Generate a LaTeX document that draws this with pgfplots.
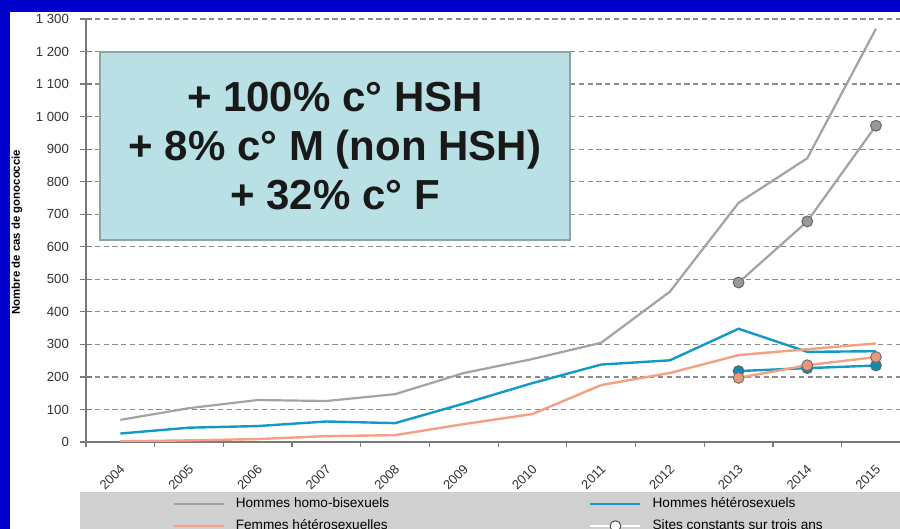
\documentclass[border=0pt]{standalone}
\usepackage{fontspec}
\setmainfont{Liberation Sans}
\usepackage{pgfplots}
\pgfplotsset{compat=1.18}

\definecolor{bgblue}{HTML}{0000CC}
\definecolor{leggray}{HTML}{D0D0D0}
\definecolor{hshgray}{HTML}{A3A3A3}
\definecolor{hetblue}{HTML}{1399C6}
\definecolor{femorange}{HTML}{F4A083}
\definecolor{boxfill}{HTML}{B9E0E4}
\definecolor{boxborder}{HTML}{8FA4A8}
\definecolor{gridgray}{HTML}{8C8C8C}
\definecolor{axisgray}{HTML}{7A7A7A}
\definecolor{tickgray}{HTML}{333333}

\begin{document}
\begin{tikzpicture}
\useasboundingbox (0pt,0pt) rectangle (450pt,264.5pt);
\fill[bgblue] (0pt,0pt) rectangle (450pt,264.5pt);
\fill[white] (5pt,0pt) rectangle (450pt,258.5pt);
\fill[leggray] (40pt,0pt) rectangle (450pt,18.5pt);

\begin{axis}[
  at={(43pt,43.5pt)}, anchor=south west,
  scale only axis, width=407pt, height=211.5pt,
  xmin=-0.5, xmax=11.35, ymin=0, ymax=1300,
  axis x line*=bottom, axis y line*=left,
  axis line style={draw=axisgray, line width=0.6pt, -},
  xtick={0,...,11},
  xticklabels={2004,2005,2006,2007,2008,2009,2010,2011,2012,2013,2014,2015},
  minor xtick={-0.5,0.5,...,10.5},
  ytick={0,100,...,1300},
  yticklabels={0,100,200,300,400,500,600,700,800,900,1 000,1 100,1 200,1 300},
  tick align=center,
  major tick length=6pt, minor tick length=2.5pt,
  xtick style={draw=none},
  minor x tick style={draw=axisgray, line width=0.6pt, yshift=-1.25pt},
  ytick style={draw=axisgray, line width=0.6pt},
  ymajorgrids,
  major grid style={draw=gridgray, line width=0.6pt, dash pattern=on 2.6pt off 1.8pt},
  /pgf/number format/assume math mode=true,
  ticklabel style={text=tickgray},
  xticklabel style={font=\fontsize{6.5}{7}\selectfont, rotate=45, anchor=east, yshift=-7.5pt, xshift=-2.5pt},
  yticklabel style={font=\fontsize{6.6}{7}\selectfont, xshift=-2pt},
  ylabel={Nombre de cas de gonococcie},
  ylabel style={at={(axis description cs:-0.0848,0.496)}, anchor=center,
    font=\bfseries\fontsize{5.7}{6}\selectfont, text=black},
  legend columns=2,
  legend cell align=left,
  legend image code/.code={\draw[mark repeat=2,mark phase=2,#1] plot coordinates {(0pt,0pt) (12.5pt,0pt) (25pt,0pt)};},
  legend style={at={(axis description cs:0.1057,-0.121)}, anchor=north west,
    draw=none, fill=none, inner sep=0pt, row sep=0.5pt,
    font=\fontsize{6.8}{8}\selectfont,
    /tikz/every odd column/.style={column sep=3.5pt},
    /tikz/column 2/.style={column sep=98pt}},
  mark size=2.7pt,
]
\addplot[hshgray, line width=1.1pt] coordinates {
  (0,68) (1,104) (2,129) (3,126) (4,147) (5,212) (6,255) (7,305) (8,462) (9,735) (10,872) (11,1270)};
\addlegendentry{Hommes homo-bisexuels}
\addplot[hetblue, line width=1.2pt] coordinates {
  (0,26) (1,44) (2,49) (3,63) (4,58) (5,118) (6,181) (7,238) (8,251) (9,348) (10,277) (11,279)};
\addlegendentry{Hommes hétérosexuels}
\addplot[femorange, line width=1.2pt] coordinates {
  (0,2) (1,5) (2,9) (3,18) (4,21) (5,55) (6,86) (7,175) (8,212) (9,267) (10,285) (11,303)};
\addlegendentry{Femmes hétérosexuelles}
\addlegendimage{white, line width=1.2pt, mark=*, mark options={fill=white, draw=black!70, line width=0.5pt}}
\addlegendentry{Sites constants sur trois ans}

\addplot[forget plot, hshgray, line width=1.1pt, mark=*,
  mark options={fill=black!40, draw=black!60, line width=0.5pt}] coordinates {
  (9,490) (10,678) (11,972)};
\addplot[forget plot, hetblue, line width=1.2pt, mark=*,
  mark options={fill=hetblue!90!black, draw=black!60, line width=0.5pt}] coordinates {
  (9,218) (10,227) (11,235)};
\addplot[forget plot, femorange, line width=1.2pt, mark=*,
  mark options={fill=femorange!95!black, draw=black!55, line width=0.5pt}] coordinates {
  (9,197) (10,236) (11,261)};
\end{axis}

\fill[bgblue] (0pt,258.5pt) rectangle (450pt,264.5pt);
\node[draw=boxborder, line width=1pt, fill=boxfill, minimum width=235pt,
  minimum height=94pt, align=center, inner sep=0pt,
  font=\bfseries\fontsize{21}{24.5}\selectfont, text=black!90]
  at (167.5pt,191.5pt) {+ 100\% c° HSH\\+ 8\% c° M (non HSH)\\+ 32\% c° F};
\end{tikzpicture}
\end{document}
